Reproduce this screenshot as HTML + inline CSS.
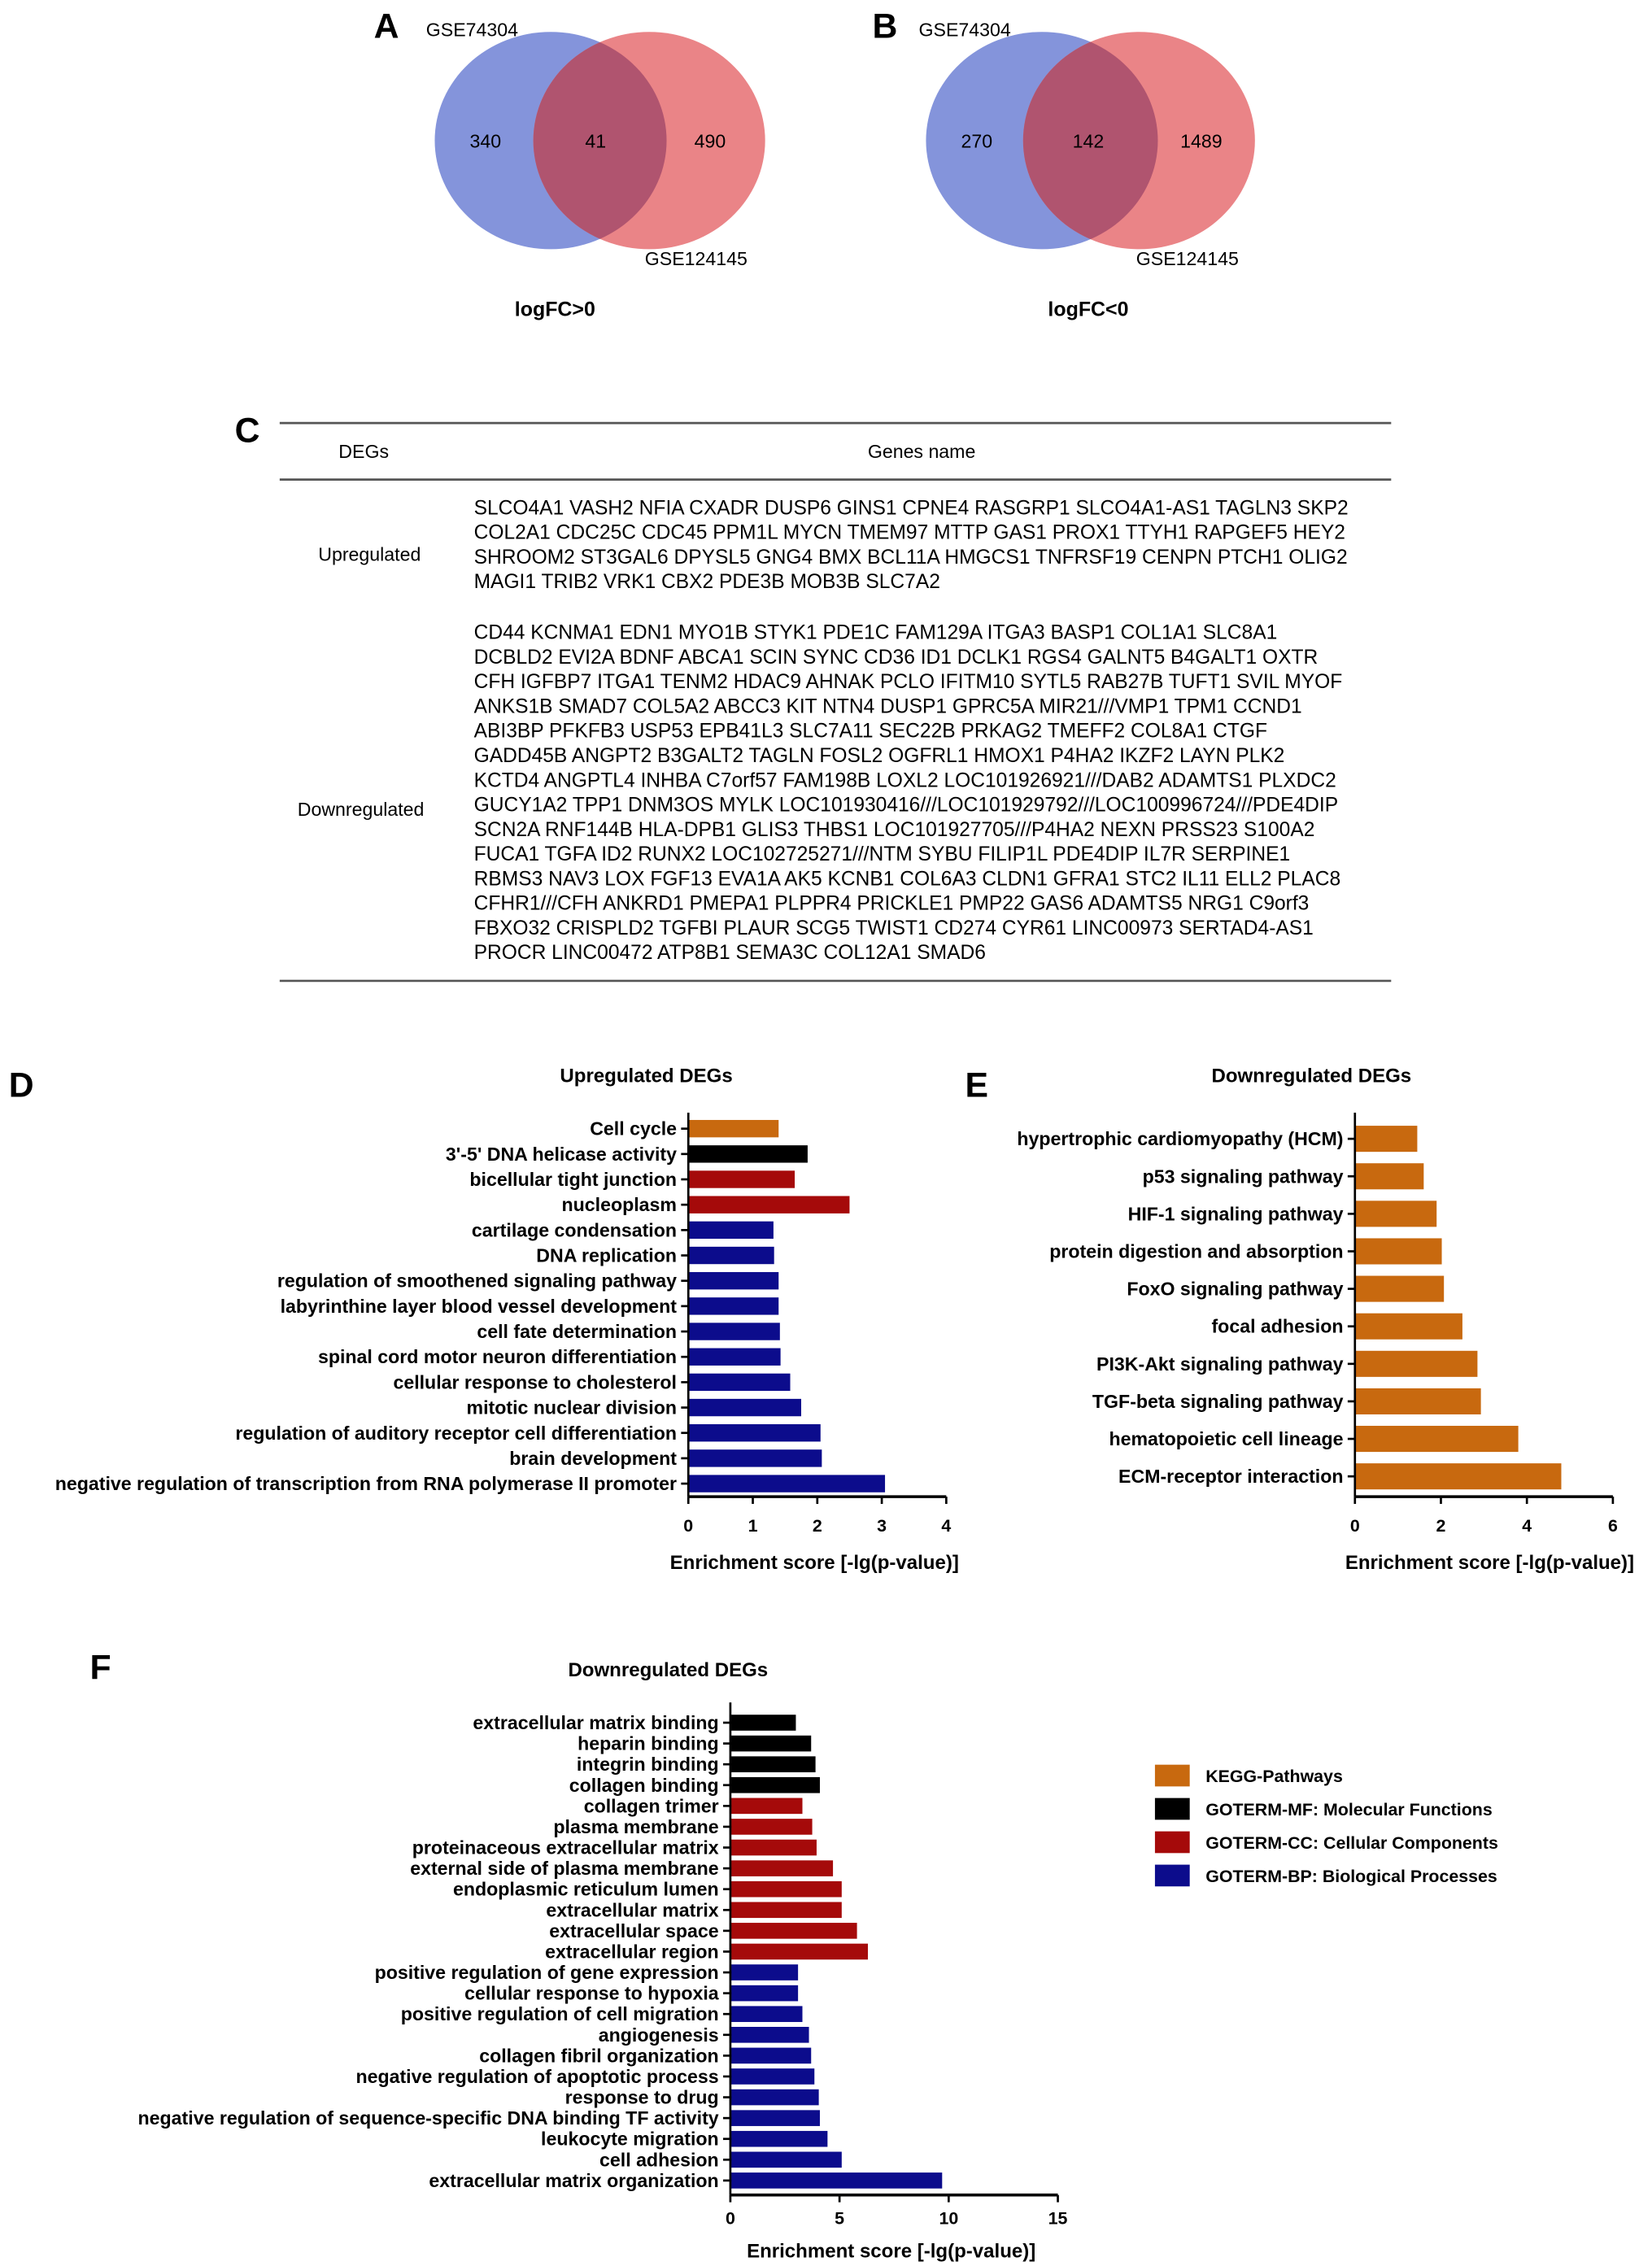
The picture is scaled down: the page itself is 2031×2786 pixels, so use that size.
<!DOCTYPE html>
<html><head><meta charset="utf-8"><style>
html,body{margin:0;padding:0;background:#fff}
svg{display:block}
text{font-family:"Liberation Sans",Arial,sans-serif}
</style></head><body>
<svg id="fig" width="2031" height="2786" viewBox="0 0 1140 1564" preserveAspectRatio="none" xmlns="http://www.w3.org/2000/svg">
<defs>
<clipPath id="clipA"><ellipse cx="380" cy="97" rx="80" ry="75"/></clipPath>
<clipPath id="clipB"><ellipse cx="719" cy="97" rx="80" ry="75"/></clipPath>
</defs>
<g>
<text x="258" y="26" font-size="24" font-weight="bold">A</text>
<ellipse cx="380" cy="97" rx="80" ry="75" fill="#8494db"/>
<ellipse cx="448" cy="97" rx="80" ry="75" fill="#ea8487"/>
<ellipse cx="448" cy="97" rx="80" ry="75" fill="#b0546f" clip-path="url(#clipA)"/>
<text x="294" y="25" font-size="13">GSE74304</text>
<text x="445" y="183" font-size="13">GSE124145</text>
<text x="335" y="102" font-size="13" text-anchor="middle">340</text>
<text x="411" y="102" font-size="13" text-anchor="middle">41</text>
<text x="490" y="102" font-size="13" text-anchor="middle">490</text>
<text x="383" y="218" font-size="14" font-weight="bold" text-anchor="middle">logFC&gt;0</text>
</g>
<g>
<text x="602" y="26" font-size="24" font-weight="bold">B</text>
<ellipse cx="719" cy="97" rx="80" ry="75" fill="#8494db"/>
<ellipse cx="786" cy="97" rx="80" ry="75" fill="#ea8487"/>
<ellipse cx="786" cy="97" rx="80" ry="75" fill="#b0546f" clip-path="url(#clipB)"/>
<text x="634" y="25" font-size="13">GSE74304</text>
<text x="784" y="183" font-size="13">GSE124145</text>
<text x="674" y="102" font-size="13" text-anchor="middle">270</text>
<text x="751" y="102" font-size="13" text-anchor="middle">142</text>
<text x="829" y="102" font-size="13" text-anchor="middle">1489</text>
<text x="751" y="218" font-size="14" font-weight="bold" text-anchor="middle">logFC&lt;0</text>
</g>
<g id="tableC">
<text x="162" y="305" font-size="24" font-weight="bold">C</text>
<line x1="193" y1="292" x2="960" y2="292" stroke="#555" stroke-width="1.5"/>
<line x1="193" y1="331" x2="960" y2="331" stroke="#555" stroke-width="1.5"/>
<line x1="193" y1="677" x2="960" y2="677" stroke="#555" stroke-width="1.5"/>
<text x="251" y="316" font-size="13" text-anchor="middle">DEGs</text>
<text x="636" y="316" font-size="13" text-anchor="middle">Genes name</text>
<text x="255" y="387" font-size="13" text-anchor="middle">Upregulated</text>
<text x="249" y="563" font-size="13" text-anchor="middle">Downregulated</text>
</g>
<g id="chartD"></g>
<g id="chartE"></g>
<g id="chartF"></g>
</svg>
<script>
const upGenes = ["SLCO4A1 VASH2 NFIA CXADR DUSP6 GINS1 CPNE4 RASGRP1 SLCO4A1-AS1 TAGLN3 SKP2","COL2A1 CDC25C CDC45 PPM1L MYCN TMEM97 MTTP GAS1 PROX1 TTYH1 RAPGEF5 HEY2","SHROOM2 ST3GAL6 DPYSL5 GNG4 BMX BCL11A HMGCS1 TNFRSF19 CENPN PTCH1 OLIG2","MAGI1 TRIB2 VRK1 CBX2 PDE3B MOB3B SLC7A2"];
const downGenes = ["CD44 KCNMA1 EDN1 MYO1B STYK1 PDE1C FAM129A ITGA3 BASP1 COL1A1 SLC8A1","DCBLD2 EVI2A BDNF ABCA1 SCIN SYNC CD36 ID1 DCLK1 RGS4 GALNT5 B4GALT1 OXTR","CFH IGFBP7 ITGA1 TENM2 HDAC9 AHNAK PCLO IFITM10 SYTL5 RAB27B TUFT1 SVIL MYOF","ANKS1B SMAD7 COL5A2 ABCC3 KIT NTN4 DUSP1 GPRC5A MIR21///VMP1 TPM1 CCND1","ABI3BP PFKFB3 USP53 EPB41L3 SLC7A11 SEC22B PRKAG2 TMEFF2 COL8A1 CTGF","GADD45B ANGPT2 B3GALT2 TAGLN FOSL2 OGFRL1 HMOX1 P4HA2 IKZF2 LAYN PLK2","KCTD4 ANGPTL4 INHBA C7orf57 FAM198B LOXL2 LOC101926921///DAB2 ADAMTS1 PLXDC2","GUCY1A2 TPP1 DNM3OS MYLK LOC101930416///LOC101929792///LOC100996724///PDE4DIP","SCN2A RNF144B HLA-DPB1 GLIS3 THBS1 LOC101927705///P4HA2 NEXN PRSS23 S100A2","FUCA1 TGFA ID2 RUNX2 LOC102725271///NTM SYBU FILIP1L PDE4DIP IL7R SERPINE1","RBMS3 NAV3 LOX FGF13 EVA1A AK5 KCNB1 COL6A3 CLDN1 GFRA1 STC2 IL11 ELL2 PLAC8","CFHR1///CFH ANKRD1 PMEPA1 PLPPR4 PRICKLE1 PMP22 GAS6 ADAMTS5 NRG1 C9orf3","FBXO32 CRISPLD2 TGFBI PLAUR SCG5 TWIST1 CD274 CYR61 LINC00973 SERTAD4-AS1","PROCR LINC00472 ATP8B1 SEMA3C COL12A1 SMAD6"];

const dCategories = ["Cell cycle","3'-5' DNA helicase activity","bicellular tight junction","nucleoplasm","cartilage condensation","DNA replication","regulation of smoothened signaling pathway","labyrinthine layer blood vessel development","cell fate determination","spinal cord motor neuron differentiation","cellular response to cholesterol","mitotic nuclear division","regulation of auditory receptor cell differentiation","brain development","negative regulation of transcription from RNA polymerase II promoter"];
const dValues = [1.4,1.85,1.65,2.5,1.32,1.33,1.4,1.4,1.42,1.43,1.58,1.75,2.05,2.07,3.05];
const dGroups = ["KEGG","MF","CC","CC","BP","BP","BP","BP","BP","BP","BP","BP","BP","BP","BP"];
const dTicks = [0,1,2,3,4];

const eCategories = ["hypertrophic cardiomyopathy (HCM)","p53 signaling pathway","HIF-1 signaling pathway","protein digestion and absorption","FoxO signaling pathway","focal adhesion","PI3K-Akt signaling pathway","TGF-beta signaling pathway","hematopoietic cell lineage","ECM-receptor interaction"];
const eValues = [1.45,1.6,1.9,2.02,2.07,2.5,2.85,2.93,3.8,4.8];
const eTicks = [0,2,4,6];

const fCategories = ["extracellular matrix binding","heparin binding","integrin binding","collagen binding","collagen trimer","plasma membrane","proteinaceous extracellular matrix","external side of plasma membrane","endoplasmic reticulum lumen","extracellular matrix","extracellular space","extracellular region","positive regulation of gene expression","cellular response to hypoxia","positive regulation of cell migration","angiogenesis","collagen fibril organization","negative regulation of apoptotic process","response to drug","negative regulation of sequence-specific DNA binding TF activity","leukocyte migration","cell adhesion","extracellular matrix organization"];
const fValues = [3.0,3.7,3.9,4.1,3.3,3.75,3.95,4.7,5.1,5.1,5.8,6.3,3.1,3.1,3.3,3.6,3.7,3.85,4.05,4.1,4.45,5.1,9.7];
const fGroups = ["MF","MF","MF","MF","CC","CC","CC","CC","CC","CC","CC","CC","BP","BP","BP","BP","BP","BP","BP","BP","BP","BP","BP"];
const fTicks = [0,5,10,15];

const legendLabels = ["KEGG-Pathways","GOTERM-MF: Molecular Functions","GOTERM-CC: Cellular Components","GOTERM-BP: Biological Processes"];
const legendGroups = ["KEGG","MF","CC","BP"];

const COLORS = {KEGG:"#c8690f", MF:"#000000", CC:"#a50a0a", BP:"#0c0c8c"};
const NS = "http://www.w3.org/2000/svg";
function mk(parent, tag, attrs, txt){
  const el = document.createElementNS(NS, tag);
  for (const k in attrs) el.setAttribute(k, attrs[k]);
  if (txt !== undefined) el.textContent = txt;
  parent.appendChild(el);
  return el;
}

const tbl = document.getElementById('tableC');
upGenes.forEach((s,i)=>{
  const t = mk(tbl,'text',{x:327,y:355+i*17,'font-size':13.8},s);
  
  
});
downGenes.forEach((s,i)=>{
  const t = mk(tbl,'text',{x:327,y:441+i*17,'font-size':13.8},s);
  
  
});

function barChart(g, cfg){
  const sx = v => cfg.x0 + v/cfg.max*(cfg.x1-cfg.x0);
  const sy = i => cfg.yFirst + i*(cfg.yLast-cfg.yFirst)/(cfg.cats.length-1);
  cfg.cats.forEach((c,i)=>{
    const r = mk(g,'rect',{x:sx(0),y:sy(i)-cfg.bh/2,width:sx(cfg.vals[i])-sx(0),height:cfg.bh,fill:COLORS[cfg.groups[i]]});
    
    
    const tk = mk(g,'line',{x1:sx(0)-5,x2:sx(0),y1:sy(i),y2:sy(i),stroke:'#000','stroke-width':1.5});
    
    
    const t = mk(g,'text',{x:sx(0)-8,y:sy(i)+4.5,'font-size':cfg.fs,'font-weight':'bold','text-anchor':'end'},c);
    
    
  });
  const ya = mk(g,'line',{x1:sx(0),x2:sx(0),y1:cfg.yTop,y2:cfg.axisY,stroke:'#000','stroke-width':1.5});
  
  
  const xa = mk(g,'line',{x1:sx(0),x2:sx(cfg.max),y1:cfg.axisY,y2:cfg.axisY,stroke:'#000','stroke-width':2});
  
  
  cfg.ticks.forEach(v=>{
    const l = mk(g,'line',{x1:sx(v),x2:sx(v),y1:cfg.axisY,y2:cfg.axisY+5,stroke:'#000','stroke-width':1.5});
    
    
    const t = mk(g,'text',{x:sx(v),y:cfg.axisY+cfg.tickOff,'font-size':12,'font-weight':'bold','text-anchor':'middle'},String(v));
    
    
  });
  const at = mk(g,'text',{x:cfg.titleX,y:cfg.axisY+cfg.titleOff,'font-size':13.5,'font-weight':'bold','text-anchor':'middle'},'Enrichment  score [-lg(p-value)]');
  
  
  const ct = mk(g,'text',{x:cfg.chartTitleX,y:cfg.chartTitleY,'font-size':13.5,'font-weight':'bold','text-anchor':'middle'},cfg.title);
  
  
  const pl = mk(g,'text',{x:cfg.panelX,y:cfg.panelY,'font-size':24,'font-weight':'bold'},cfg.panel);
  
  
}

barChart(document.getElementById('chartD'),{cats:dCategories,vals:dValues,groups:dGroups,ticks:dTicks,max:4,x0:475,x1:653,yFirst:779,yLast:1024,bh:12,yTop:768,axisY:1033,fs:13,tickOff:24,titleOff:50,titleX:562,title:'Upregulated DEGs',chartTitleX:446,chartTitleY:747,panel:'D',panelX:6,panelY:757});
barChart(document.getElementById('chartE'),{cats:eCategories,vals:eValues,groups:eCategories.map(()=> 'KEGG'),ticks:eTicks,max:6,x0:935,x1:1113,yFirst:786,yLast:1019,bh:18,yTop:768,axisY:1033,fs:13,tickOff:24,titleOff:50,titleX:1028,title:'Downregulated DEGs',chartTitleX:905,chartTitleY:747,panel:'E',panelX:666,panelY:757});
barChart(document.getElementById('chartF'),{cats:fCategories,vals:fValues,groups:fGroups,ticks:fTicks,max:15,x0:504,x1:730,yFirst:1189,yLast:1505,bh:11,yTop:1175,axisY:1515,fs:13,tickOff:20,titleOff:43,titleX:615,title:'Downregulated DEGs',chartTitleX:461,chartTitleY:1157,panel:'F',panelX:62,panelY:1159});

const gf = document.getElementById('chartF');
legendLabels.forEach((lab,i)=>{
  const r = mk(gf,'rect',{x:797,y:1218+i*23,width:24,height:15,fill:COLORS[legendGroups[i]]});
  
  
  const t = mk(gf,'text',{x:832,y:1230+i*23,'font-size':12,'font-weight':'bold'},lab);
  
  
});
</script>
</body></html>
